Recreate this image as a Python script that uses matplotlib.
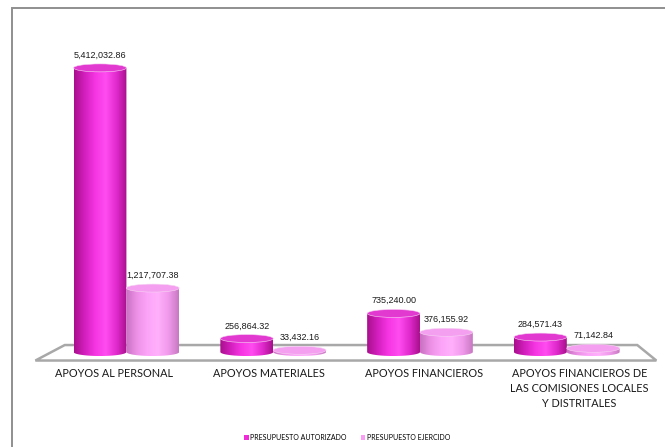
import numpy as np
import matplotlib as mpl
mpl.use('Agg')
import matplotlib.pyplot as plt
from matplotlib.patches import Ellipse, Polygon, Rectangle
from matplotlib.colors import LinearSegmentedColormap

######################
## data
######################

categories = ['APOYOS AL PERSONAL', 'APOYOS MATERIALES', 'APOYOS FINANCIEROS',
              'APOYOS FINANCIEROS DE\nLAS COMISIONES LOCALES\nY DISTRITALES']
autorizado = [5412032.86, 256864.32, 735240.00, 284571.43]
ejercido = [1217707.38, 33432.16, 376155.92, 71142.84]
series_names = ['PRESUPUESTO AUTORIZADO', 'PRESUPUESTO EJERCIDO']

######################
## styling
######################

dark_cmap = LinearSegmentedColormap.from_list('dark', ['#a80f8c', '#d21fbd', '#f535e2', '#ff4cf0', '#e22bcf', '#a90f8d'])
light_cmap = LinearSegmentedColormap.from_list('light', ['#c970c2', '#ec90e6', '#fca4f8', '#ffb0fc', '#f19aec', '#c878c2'])
dark_top = '#e23ad1'
light_top = '#f49ff0'
legend_colors = ['#f02bd8', '#fb9df5']

bar_w = 0.36
cap_b = 0.076e6  # half height of the cylinder caps, in data units

fig = plt.figure(figsize=(6.65, 4.47), dpi=100)
ax = fig.add_axes([0.0797, 0.1655, 0.883, 0.7517])
ax.axis('off')

## outer border of the chart area
fig.add_artist(Rectangle((12 / 665, -0.1), 1.2, 0.982 + 0.1, transform=fig.transFigure,
                         fill=False, edgecolor='#8f8f8f', linewidth=1.4))

## floor
n = len(categories)
floor = Polygon([(-0.42, 0.133e6), (n - 0.52, 0.133e6), (n - 0.39, -0.162e6), (-0.62, -0.162e6)],
                closed=True, facecolor='white', edgecolor='#a8a8a8', linewidth=1.8,
                clip_on=False, zorder=1)
ax.add_patch(floor)


def cylinder(xc, h, cmap, topcolor):
    x0, x1 = xc - bar_w / 2, xc + bar_w / 2
    t = np.linspace(0, np.pi, 60)
    xs = xc - (bar_w / 2) * np.cos(t)
    ys = -cap_b * np.sin(t)
    verts = [(x0, h)] + list(zip(xs, ys)) + [(x1, h)]
    body = Polygon(verts, closed=True, facecolor='none', edgecolor='none', zorder=3)
    ax.add_patch(body)
    grad = np.linspace(0, 1, 256).reshape(1, -1)
    im = ax.imshow(grad, cmap=cmap, extent=[x0, x1, -cap_b, h], aspect='auto',
                   origin='lower', zorder=3)
    im.set_clip_path(body)
    ax.add_patch(Ellipse((xc, h), bar_w, 2 * cap_b, facecolor=topcolor,
                         edgecolor='#f6d6f2', linewidth=0.4, zorder=4))


x = np.arange(n)
for i in range(n):
    cylinder(x[i] - bar_w / 2, autorizado[i], dark_cmap, dark_top)
    cylinder(x[i] + bar_w / 2, ejercido[i], light_cmap, light_top)
    for xc, v in [(x[i] - bar_w / 2, autorizado[i]), (x[i] + bar_w / 2, ejercido[i])]:
        ax.annotate('{:,.2f}'.format(v), (xc, v + cap_b), xytext=(0, 3), textcoords='offset points',
                    ha='center', va='bottom', fontsize=6.5, family='Liberation Sans',
                    color='#1a1a1a', zorder=6)

ax.set_xlim(-0.5, 3.5)
ax.set_ylim(-0.4e6, 6.0e6)

## category labels (slightly spread out, like the 3d front edge)
for i, c in enumerate(categories):
    xl = 1.5 + (i - 1.5) * 1.058
    ax.text(xl, 0.014, c, transform=ax.get_xaxis_transform(), ha='center', va='top',
            fontsize=7.8, family='Lato', color='#1a1a1a', linespacing=1.45)

## legend
handles = [Rectangle((0, 0), 1, 1, facecolor=c, edgecolor='none') for c in legend_colors]
fig.legend(handles, series_names, loc='center', bbox_to_anchor=(0.522, 0.022), ncol=2,
           frameon=False, prop={'family': 'Lato', 'size': 5}, handlelength=0.7, handleheight=0.7,
           handletextpad=0.2, columnspacing=2.0)

plt.savefig('out.png', dpi=100)
